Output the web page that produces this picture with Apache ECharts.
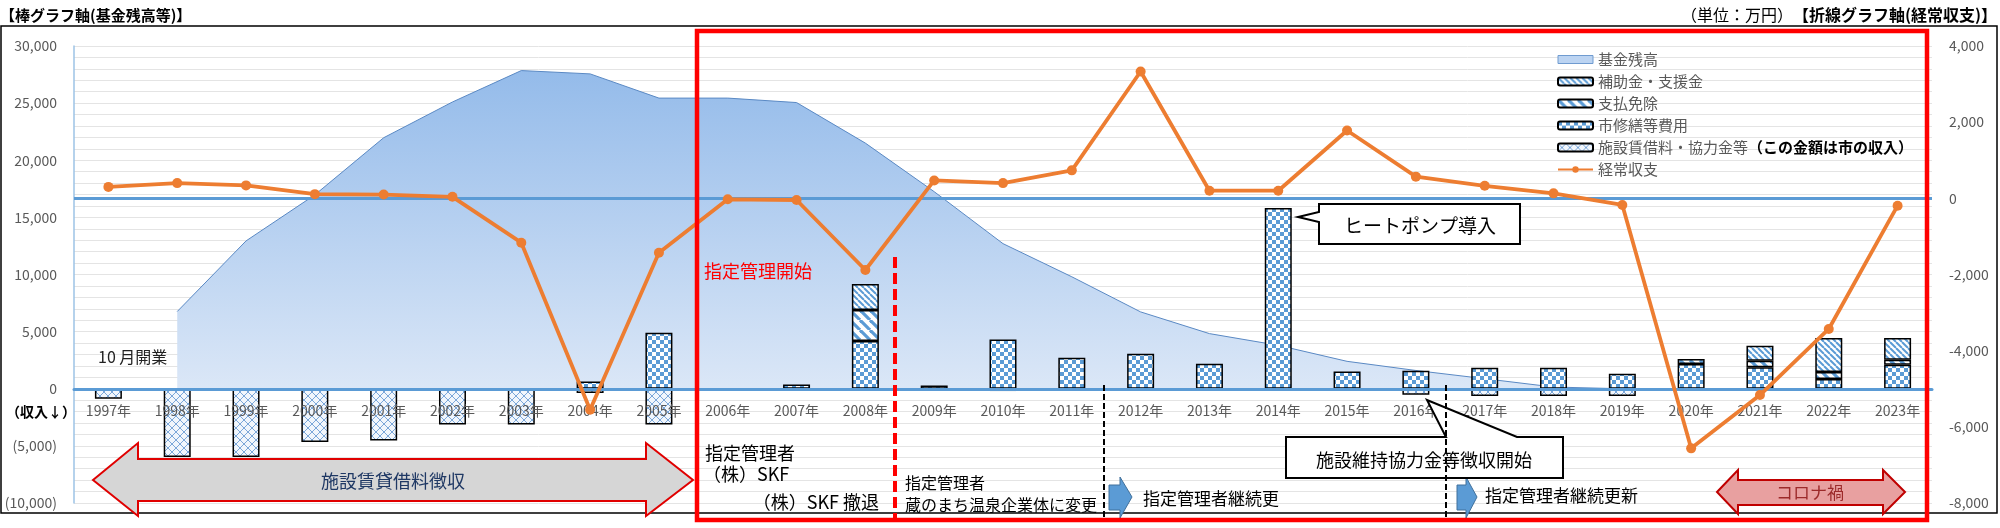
<!DOCTYPE html>
<html>
<head>
<meta charset="utf-8">
<script src="https://cdn.jsdelivr.net/npm/echarts@6/dist/echarts.min.js"></script>
<style>
html,body{margin:0;padding:0;background:#fff;}
#chart{width:2000px;height:528px;}
</style>
</head>
<body>
<div id="chart"></div>
<script>
// ---- data (万円) ----
const years = ['1997年','1998年','1999年','2000年','2001年','2002年','2003年','2004年','2005年','2006年','2007年','2008年','2009年','2010年','2011年','2012年','2013年','2014年','2015年','2016年','2017年','2018年','2019年','2020年','2021年','2022年','2023年'];
const fundBalance = [null,6760,12940,16970,21970,25100,27850,27560,25440,25440,25050,21500,17250,12700,9800,6725,4825,3800,2400,1600,880,150,0,0,0,0,0];
const repairCost  = [null,null,null,null,null,null,null,640,4900,null,380,4180,290,4320,2715,3065,2190,15820,1520,1576,1840,1840,1310,2170,1880,850,2100];
const exemption   = [null,null,null,null,null,null,null,null,null,null,null,2715,null,null,null,null,null,null,null,null,null,null,null,430,580,613,440];
const subsidy     = [null,null,null,null,null,null,null,null,null,null,null,2275,null,null,null,null,null,null,null,null,null,null,null,null,1310,2977,1900];
const rentIncome  = [-876,-5980,-5980,-4670,-4525,-3120,-3120,-380,-3120,null,null,null,null,-200,null,null,null,null,null,-520,-640,-640,-640,null,null,null,null];
const balance     = [300,400,340,110,100,40,-1164,-5550,-1427,-26,-44,-1882,470,400,735,3330,200,200,1780,570,330,131,-175,-6565,-5165,-3430,-193];

const FONT = '"Noto Sans CJK JP","Noto Sans",sans-serif';
const BLUE = '#5b9bd5';

function stripe(size, lw){
  const c=document.createElement('canvas'); c.width=c.height=size;
  const g=c.getContext('2d'); g.fillStyle='#fff'; g.fillRect(0,0,size,size);
  g.strokeStyle=BLUE; g.lineWidth=lw;
  for(const o of [-size,0,size]){ g.beginPath(); g.moveTo(o,0); g.lineTo(o+size,size); g.stroke(); }
  return c;
}
function checker(){
  const c=document.createElement('canvas'); c.width=c.height=8;
  const g=c.getContext('2d'); g.fillStyle='#fff'; g.fillRect(0,0,8,8);
  g.fillStyle=BLUE; g.fillRect(0,0,4,4); g.fillRect(4,4,4,4);
  return c;
}
function lattice(){
  const s=8; const c=document.createElement('canvas'); c.width=c.height=s;
  const g=c.getContext('2d'); g.fillStyle='#f1f6fc'; g.fillRect(0,0,s,s);
  g.strokeStyle='#7ba7d9'; g.lineWidth=1;
  for(const o of [-s,0,s]){ g.beginPath(); g.moveTo(o,0); g.lineTo(o+s,s); g.stroke();
    g.beginPath(); g.moveTo(o,s); g.lineTo(o+s,0); g.stroke(); }
  return c;
}
const pat = c => ({image:c, repeat:'repeat'});

function fmtNum(v){ return Math.abs(v).toString().replace(/\B(?=(\d{3})+(?!\d))/g, ','); }

const barBase = {type:'bar', stack:'s', barWidth:27, yAxisIndex:0, z:3};

const chart = echarts.init(document.getElementById('chart'), null, {renderer:'canvas'});

function T(x,y,text,opt){ return {type:'text', x:x, y:y, z:100,
  style:Object.assign({text:text, fontFamily:FONT, fontSize:17, fill:'#000', verticalAlign:'middle'}, opt||{})}; }

// grid geometry (px)
const GRID_TOP = 46, GRID_BOTTOM = 25, PLOT_H = 528 - GRID_TOP - GRID_BOTTOM;
// the category labels sit just under the zero line (25% of the left axis span above the bottom)
const LABEL_MARGIN = 15 - PLOT_H * 10000 / 40000;

const option = {
  animation:false,
  backgroundColor:'#fff',
  grid:{left:74, right:68, top:GRID_TOP, bottom:GRID_BOTTOM, containLabel:false},
  legend:{
    orient:'vertical', left:1552, top:47, itemWidth:35, itemHeight:8, itemGap:7,
    textStyle:{fontFamily:FONT, fontSize:15, color:'#595959',
      rich:{b:{fontFamily:FONT, fontSize:15, fontWeight:'bold', color:'#000'}}},
    formatter: n => n==='施設賃借料・協力金等' ? '施設賃借料・協力金等{b|（この金額は市の収入）}' : n,
    data:[
      {name:'基金残高', icon:'rect', itemStyle:{color:'#bcd4f2', borderColor:'#6f9bd0', borderWidth:1}},
      '補助金・支援金','支払免除','市修繕等費用','施設賃借料・協力金等','経常収支']
  },
  xAxis:{type:'category', data:years, z:10,
     axisLine:{show:true, onZero:true, lineStyle:{color:BLUE, width:3}},
     axisTick:{show:false},
     axisLabel:{interval:0, margin:LABEL_MARGIN, color:'#595959', fontFamily:FONT, fontSize:14}},
  yAxis:[
    {type:'value', min:-10000, max:30000, interval:5000,
     axisLine:{show:true, onZero:false, lineStyle:{color:'#9dc3e6', width:1.5}},
     axisTick:{show:false},
     axisLabel:{margin:17, color:'#595959', fontFamily:FONT, fontSize:14,
       formatter:v => v<0 ? '('+fmtNum(v)+')' : fmtNum(v)},
     splitLine:{show:true, lineStyle:{color:'#e4e4e4', width:1}},
     minorTick:{show:false, splitNumber:5},
     minorSplitLine:{show:true, lineStyle:{color:'#e4e4e4', width:1}}},
    {type:'value', min:-8000, max:4000, interval:2000, position:'right',
     axisLine:{show:false, onZero:false}, axisTick:{show:false}, splitLine:{show:false},
     axisLabel:{margin:17, color:'#595959', fontFamily:FONT, fontSize:14,
       formatter:v => (v<0?'-':'')+fmtNum(v)}}
  ],
  series:[
    {name:'基金残高', type:'line', yAxisIndex:0, data:fundBalance, symbol:'none', z:1,
     lineStyle:{color:'#5a89c4', width:1},
     itemStyle:{color:'#bcd4f2'},
     areaStyle:{opacity:1, color:new echarts.graphic.LinearGradient(0,0,0,1,[
       {offset:0,color:'#94bbea'},{offset:1,color:'#dbe7f7'}])}},
    Object.assign({}, barBase, {name:'市修繕等費用', data:repairCost,
      itemStyle:{color:pat(checker()), borderColor:'#000', borderWidth:1.5}}),
    Object.assign({}, barBase, {name:'支払免除', data:exemption,
      itemStyle:{color:pat(stripe(10,3.2)), borderColor:'#000', borderWidth:1.5}}),
    Object.assign({}, barBase, {name:'補助金・支援金', data:subsidy,
      itemStyle:{color:pat(stripe(6,2)), borderColor:'#000', borderWidth:1.5}}),
    Object.assign({}, barBase, {name:'施設賃借料・協力金等', data:rentIncome,
      itemStyle:{color:pat(lattice()), borderColor:'#000', borderWidth:1.5}}),
    {name:'経常収支', type:'line', yAxisIndex:1, data:balance, z:20,
     symbol:'circle', symbolSize:10,
     lineStyle:{color:'#ed7d31', width:3.8}, itemStyle:{color:'#ed7d31'},
     markLine:{silent:true, symbol:'none', z:4, label:{show:false},
       lineStyle:{color:BLUE, width:3, type:'solid'}, data:[{yAxis:0}]}}
  ],
  graphic:[
    {type:'rect', z:0, shape:{x:1,y:26,width:1996,height:487}, style:{fill:null, stroke:'#000', lineWidth:1.5}},
    T(0,15,'【棒グラフ軸(基金残高等)】',{fontSize:15, fontWeight:'bold'}),
    {type:'text', x:1997, y:15, z:100, style:{text:'{n|（単位：万円）}{b|【折線グラフ軸(経常収支)】}', align:'right', verticalAlign:'middle',
      rich:{n:{fontFamily:FONT, fontSize:16, fill:'#000'}, b:{fontFamily:FONT, fontSize:16, fontWeight:'bold', fill:'#000'}}}},
    T(98,357,'10 月開業',{fontSize:16, fill:'#222'}),
    T(6,412,'（収入↓）',{fontSize:14, fontWeight:'bold'}),
    {type:'polygon', z:50, shape:{points:[[93,480],[138,443],[138,459],[646,459],[646,443],[693,480],[646,516],[646,501],[138,501],[138,516]]},
     style:{fill:'#d6d6d6', stroke:'#e00000', lineWidth:2}},
    T(393,481,'施設賃貸借料徴収',{fontSize:18, fill:'#1f3864', align:'center'}),
    {type:'polygon', z:50, shape:{points:[[1717,492],[1738,470],[1738,480],[1883,480],[1883,470],[1905,492],[1883,514],[1883,505],[1738,505],[1738,514]]},
     style:{fill:'#e8a0a0', stroke:'#c00000', lineWidth:2}},
    T(1810,493,'コロナ禍',{fontSize:17, fill:'#9c2a2a', align:'center'}),
    T(704,271,'指定管理開始',{fontSize:18, fill:'#ff0000'}),
    T(705,453,'指定管理者',{fontSize:18}),
    T(703,474,'（株）SKF',{fontSize:18}),
    T(879,502,'（株）SKF 撤退',{fontSize:18, align:'right'}),
    T(905,483,'指定管理者',{fontSize:16}),
    T(905,505,'蔵のまち温泉企業体に変更',{fontSize:16}),
    T(1143,499,'指定管理者継続更',{fontSize:17}),
    T(1485,496,'指定管理者継続更新',{fontSize:17}),
    {type:'polygon', z:60, shape:{points:[[1109,485],[1120,485],[1120,477],[1132,497],[1120,518],[1120,510],[1109,510]]},
     style:{fill:BLUE, stroke:'#41719c', lineWidth:1}},
    {type:'polygon', z:60, shape:{points:[[1457,485],[1466,485],[1466,477],[1477,497],[1466,518],[1466,510],[1457,510]]},
     style:{fill:BLUE, stroke:'#41719c', lineWidth:1}},
    {type:'polygon', z:60, shape:{points:[[1319,204],[1520,204],[1520,244],[1319,244],[1319,222],[1298,217],[1319,212]]},
     style:{fill:'#fff', stroke:'#000', lineWidth:2}},
    T(1420,226,'ヒートポンプ導入',{fontSize:19, align:'center'}),
    {type:'polygon', z:60, shape:{points:[[1286,437],[1446,437],[1427,400],[1517,437],[1563,437],[1563,478],[1286,478]]},
     style:{fill:'#fff', stroke:'#000', lineWidth:2}},
    T(1424,460,'施設維持協力金等徴収開始',{fontSize:18, align:'center'}),
    {type:'line', z:90, shape:{x1:895,y1:257,x2:895,y2:519}, style:{stroke:'#ff0000', lineWidth:4, lineDash:[11,5]}},
    {type:'line', z:90, shape:{x1:1104,y1:385,x2:1104,y2:519}, style:{stroke:'#000', lineWidth:2, lineDash:[6,3]}},
    {type:'line', z:90, shape:{x1:1446,y1:385,x2:1446,y2:519}, style:{stroke:'#000', lineWidth:2, lineDash:[6,3]}},
    {type:'rect', z:110, shape:{x:697,y:31,width:1230,height:489}, style:{fill:null, stroke:'#ff0000', lineWidth:4.5}}
  ]
};
chart.setOption(option);
</script>
</body>
</html>
